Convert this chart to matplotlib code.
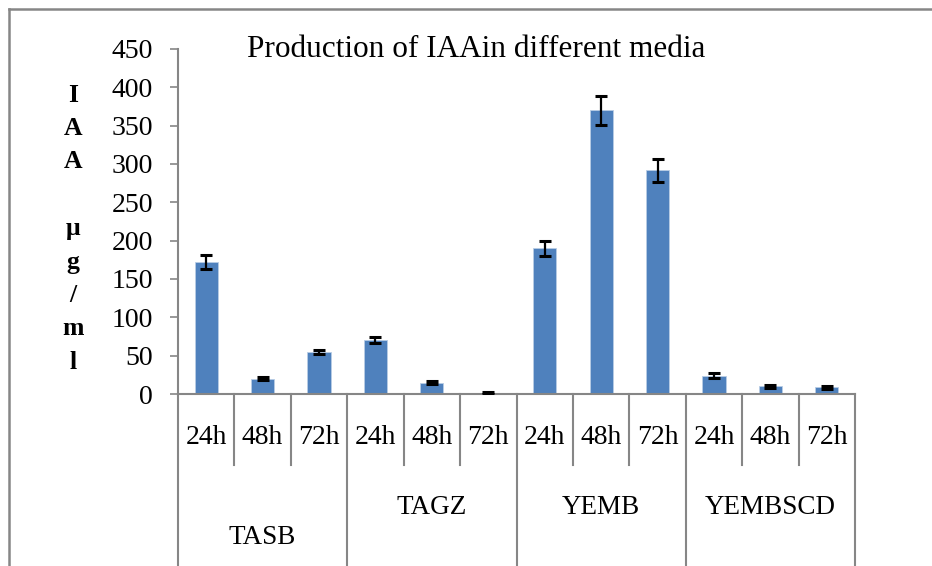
import matplotlib
matplotlib.use('Agg')
import matplotlib.pyplot as plt
from matplotlib.lines import Line2D
import matplotlib.transforms as mtransforms
import numpy as np

# data
media = ['TASB', 'TAGZ', 'YEMB', 'YEMBSCD']
hours = ['24h', '48h', '72h']
iaa_values = [172, 20, 55, 70, 15, 1, 190, 370, 292, 24, 10, 9]
iaa_errors = [9, 2, 3, 4, 2, 1, 10, 19, 15, 3, 2, 2]
yticks = [0, 50, 100, 150, 200, 250, 300, 350, 400, 450]
ylabel_letters = ['I', 'A', 'A', '', 'μ', 'g', '/', 'm', 'l']

W, H = 932, 566
bar_color = '#4F81BD'
axis_gray = '#868686'
plt.rcParams['font.family'] = ['Liberation Serif', 'DejaVu Serif']

fig = plt.figure(figsize=(W / 100, H / 100), dpi=100)
# axes box in pixels: left 178, right 855, y=0 at 394, y=450 at 49
ax = fig.add_axes([178 / W, 1 - 394 / H, 677 / W, 345 / H])

x = np.arange(len(iaa_values))
ax.bar(x, iaa_values, width=0.41, color=bar_color, edgecolor='#b9cde5', linewidth=0.6, zorder=2)
ax.errorbar(x, iaa_values, yerr=iaa_errors, fmt='none', ecolor='black',
            elinewidth=1.6, capsize=4.2, capthick=2.2, zorder=3)

ax.set_xlim(-0.5, len(iaa_values) - 0.5)
ax.set_ylim(0, 450)
ax.set_yticks(yticks)
ax.tick_params(axis='y', direction='out', length=6, width=1.2, color=axis_gray,
               labelsize=20, pad=12)
ax.set_xticks([])
for side in ['top', 'right']:
    ax.spines[side].set_visible(False)
for side in ['left', 'bottom']:
    ax.spines[side].set_color(axis_gray)
    ax.spines[side].set_linewidth(1.5)

# multi-level category axis
trans = mtransforms.blended_transform_factory(ax.transData, ax.transAxes)
n = len(iaa_values)
for i in range(n + 1):
    bottom = -0.6 if i % len(hours) == 0 else -0.206
    ax.add_line(Line2D([i - 0.5, i - 0.5], [0, bottom], transform=trans,
                       color=axis_gray, linewidth=1.5, clip_on=False))
for i in range(n):
    ax.text(i, -0.125, hours[i % len(hours)], transform=trans,
            ha='center', va='center', fontsize=20)
for g, name in enumerate(media):
    ypos = -0.415 if g == 0 else -0.328
    ax.text(g * len(hours) + 1, ypos, name, transform=trans,
            ha='center', va='center', fontsize=19.5)

# title
fig.text(476 / W, 1 - 57 / H, 'Production of IAAin different media',
         ha='center', va='baseline', fontsize=22.5)

# stacked y label
for k, ch in enumerate(ylabel_letters):
    if ch:
        fig.text(73 / W, 1 - (95 + 33.4 * k) / H, ch, ha='center', va='center',
                 fontsize=18.5, fontweight='bold')

# outer chart border (left and top visible)
fig.add_artist(Line2D([9 / W, 9 / W], [0, 1 - 9 / H], color=axis_gray, linewidth=1.8))
fig.add_artist(Line2D([9 / W, 1], [1 - 9 / H, 1 - 9 / H], color=axis_gray, linewidth=1.8))

fig.savefig('out.png', dpi=100)
